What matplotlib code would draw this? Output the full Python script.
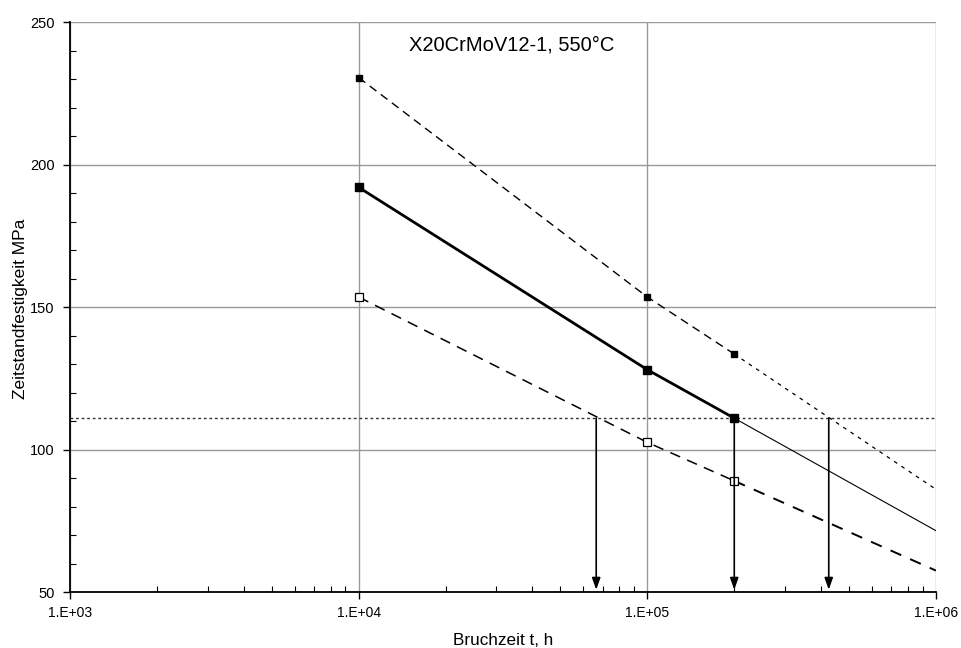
import matplotlib
matplotlib.use("Agg")
import matplotlib.pyplot as plt
from matplotlib.ticker import FixedLocator, LogLocator, MultipleLocator, FuncFormatter
import numpy as np

plt.rcParams['font.family'] = ['Liberation Sans', 'DejaVu Sans']

# Zeitstandfestigkeit X20CrMoV12-1 bei 550 °C
t_data = [1e4, 1e5, 2e5]
r_mean = [192.0, 128.0, 111.0]
r_upper = [230.5, 153.5, 133.5]
r_lower = [153.5, 102.5, 89.0]

# Extrapolation bis 1E+06 h
t_ext = [2e5, 1e6]
r_mean_ext = [111.0, 71.5]
r_upper_ext = [133.5, 86.0]
r_lower_ext = [89.0, 57.5]

sigma_design = 111.0
t_arrows = [6.65e4, 2e5, 4.25e5]

fig = plt.figure(figsize=(9.62, 6.48), dpi=100)
ax = fig.add_axes([0.0728, 0.0864, 0.9002, 0.8796])

ax.set_xscale('log')
ax.set_xlim(1e3, 1e6)
ax.set_ylim(50, 250)

# Streuband und Mittelwert
ax.plot(t_data, r_upper, color='black', lw=1.0, linestyle=(0, (6, 4)),
        marker='s', ms=4, mfc='black', mec='black', zorder=4)
ax.plot(t_ext, r_upper_ext, color='black', lw=0.9, linestyle=(0, (3, 4)), zorder=3)

ax.plot(t_data, r_mean, color='black', lw=2.0, marker='s', ms=6,
        mfc='black', mec='black', zorder=5)
ax.plot(t_ext, r_mean_ext, color='black', lw=0.8, zorder=3)

ax.plot(t_data, r_lower, color='black', lw=1.1, linestyle=(0, (7, 5)),
        marker='s', ms=6, mfc='white', mec='black', mew=0.9, zorder=4)
ax.plot(t_ext, r_lower_ext, color='black', lw=1.4, linestyle=(0, (6, 5)), zorder=3)

# Horizontale Linie bei der Auslegungsspannung
ax.axhline(sigma_design, color='#333333', lw=1.0, linestyle=(0, (2, 2)), zorder=2)

# Pfeile zur Zeitachse
for t in t_arrows:
    ax.annotate('', xy=(t, 50.8), xytext=(t, sigma_design),
                arrowprops=dict(arrowstyle='-|>,head_length=0.7,head_width=0.25',
                                color='black', lw=1.2, shrinkA=0, shrinkB=0),
                zorder=6)

ax.text(10**4.531, 242, 'X20CrMoV12-1, 550°C', ha='center', va='center', fontsize=14.5)

# Achsen
ax.xaxis.set_major_locator(FixedLocator([1e3, 1e4, 1e5, 1e6]))
ax.xaxis.set_minor_locator(LogLocator(base=10, subs=np.arange(2, 10)))
ax.xaxis.set_major_formatter(FuncFormatter(lambda v, p: '1.E+%02d' % round(np.log10(v))))
ax.yaxis.set_major_locator(MultipleLocator(50))
ax.yaxis.set_minor_locator(MultipleLocator(10))

ax.tick_params(which='major', direction='out', length=5, width=1, labelsize=10.5, pad=6)
ax.tick_params(axis='x', which='major', labelsize=10, pad=5)
ax.tick_params(which='minor', direction='in', length=4, width=0.8)
ax.tick_params(axis='x', which='minor', labelbottom=False)

ax.grid(True, which='major', color='#999999', lw=1.0)
ax.set_axisbelow(True)

for side in ['top', 'right']:
    ax.spines[side].set_visible(False)
for side in ['left', 'bottom']:
    ax.spines[side].set_linewidth(1.3)

ax.set_xlabel('Bruchzeit t, h', fontsize=12.3)
ax.set_ylabel('Zeitstandfestigkeit MPa', fontsize=12.5)
ax.xaxis.set_label_coords(0.5, -0.072)
ax.yaxis.set_label_coords(-0.049, 0.496)

fig.savefig('out.png', dpi=100)
